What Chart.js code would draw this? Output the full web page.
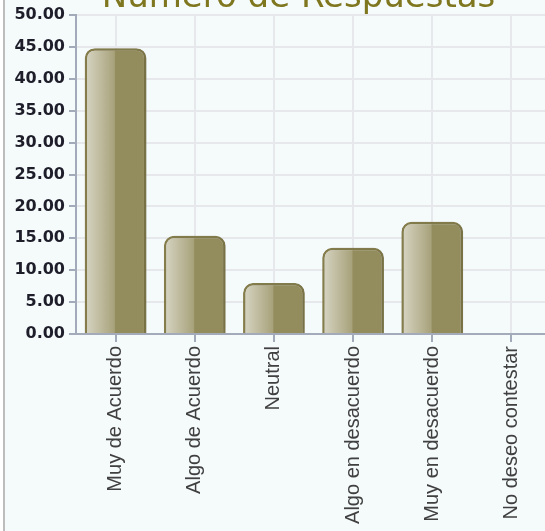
<!DOCTYPE html>
<html>
<head>
<meta charset="utf-8">
<script src="https://cdn.jsdelivr.net/npm/chart.js@4"></script>
<style>
  html, body { margin: 0; padding: 0; background: #fff; overflow: hidden; }
  #wrap {
    position: absolute; left: 3px; top: 0;
    width: 560px; height: 531px;
    border-left: 2px solid #bdbdbd;
    background: #f5fafb;
  }
  #chart { position: absolute; left: 0; top: 0; }
</style>
</head>
<body>
<div id="wrap"><canvas id="chart" width="546" height="531"></canvas></div>
<script>
const title = "Número de Respuestas";
const categories = [
  "Muy de Acuerdo",
  "Algo de Acuerdo",
  "Neutral",
  "Algo en desacuerdo",
  "Muy en desacuerdo",
  "No deseo contestar",
];
const respuestas = [44.8, 15.4, 8.0, 13.5, 17.6, 0];
const yMin = 0;
const yMax = 50;
const yStep = 5;

const axisColor = "#a3abbb";
const gridColor = "#e6e8eb";
const barWidthRatio = 0.78;

// left half of each bar is a light-to-olive gradient, right half is flat olive
function barFill(c) {
  const chart = c.chart;
  const x = chart.scales.x;
  if (!chart.chartArea || !x) return "#948d5e";
  const cx = x.getPixelForValue(c.dataIndex);
  const w = (x.width / categories.length) * barWidthRatio;
  const g = chart.ctx.createLinearGradient(cx - w / 2, 0, cx + w / 2, 0);
  g.addColorStop(0, "#d8d6c5");
  g.addColorStop(0.48, "#a8a27b");
  g.addColorStop(0.5, "#938c5d");
  g.addColorStop(1, "#938c5d");
  return g;
}

const barShadow = {
  id: "barShadow",
  beforeDatasetsDraw(chart) {
    const ctx = chart.ctx;
    ctx.save();
    ctx.shadowColor = "rgba(60, 60, 40, 0.3)";
    ctx.shadowBlur = 7;
    ctx.shadowOffsetX = 3;
    ctx.shadowOffsetY = 1;
  },
  afterDatasetsDraw(chart) {
    chart.ctx.restore();
  },
};

const titleText = {
  id: "titleText",
  afterDraw(chart) {
    const ctx = chart.ctx;
    const area = chart.chartArea;
    ctx.save();
    ctx.font = "34px 'DejaVu Sans'";
    ctx.fillStyle = "#7f771f";
    ctx.textAlign = "center";
    ctx.textBaseline = "alphabetic";
    ctx.fillText(title, (area.left + area.right) / 2 - 15, area.top - 8);
    ctx.restore();
  },
};

const ctx = document.getElementById("chart").getContext("2d");

new Chart(ctx, {
  type: "bar",
  data: {
    labels: categories,
    datasets: [
      {
        label: title,
        data: respuestas,
        backgroundColor: barFill,
        borderColor: "#877f4d",
        borderWidth: 2.5,
        borderSkipped: "start",
        borderRadius: 10,
        barPercentage: barWidthRatio,
        categoryPercentage: 1,
      },
    ],
  },
  options: {
    responsive: false,
    animation: false,
    layout: { padding: { top: 15, right: 0, bottom: 0, left: 0 } },
    plugins: {
      legend: { display: false },
      tooltip: { enabled: false },
      title: { display: false },
    },
    scales: {
      x: {
        afterFit: (s) => { s.height = 197; },
        grid: {
          offset: false,
          color: gridColor,
          lineWidth: 2,
          tickLength: 8,
          tickColor: axisColor,
          tickWidth: 2,
        },
        border: { color: axisColor, width: 2 },
        ticks: {
          maxRotation: 90,
          minRotation: 90,
          padding: 4,
          color: "#404040",
          font: { family: "'Liberation Sans', Arial", size: 20 },
        },
      },
      y: {
        min: yMin,
        max: yMax,
        afterFit: (s) => { s.width = 71; },
        grid: {
          color: gridColor,
          lineWidth: 2,
          tickLength: 7,
          tickColor: axisColor,
          tickWidth: 2,
        },
        border: { color: axisColor, width: 2 },
        ticks: {
          stepSize: yStep,
          padding: 4,
          color: "#1e1e2a",
          font: { family: "'DejaVu Sans'", size: 16, weight: "bold" },
          callback: (v) => Number(v).toFixed(2),
        },
      },
    },
  },
  plugins: [barShadow, titleText],
});
</script>
</body>
</html>
